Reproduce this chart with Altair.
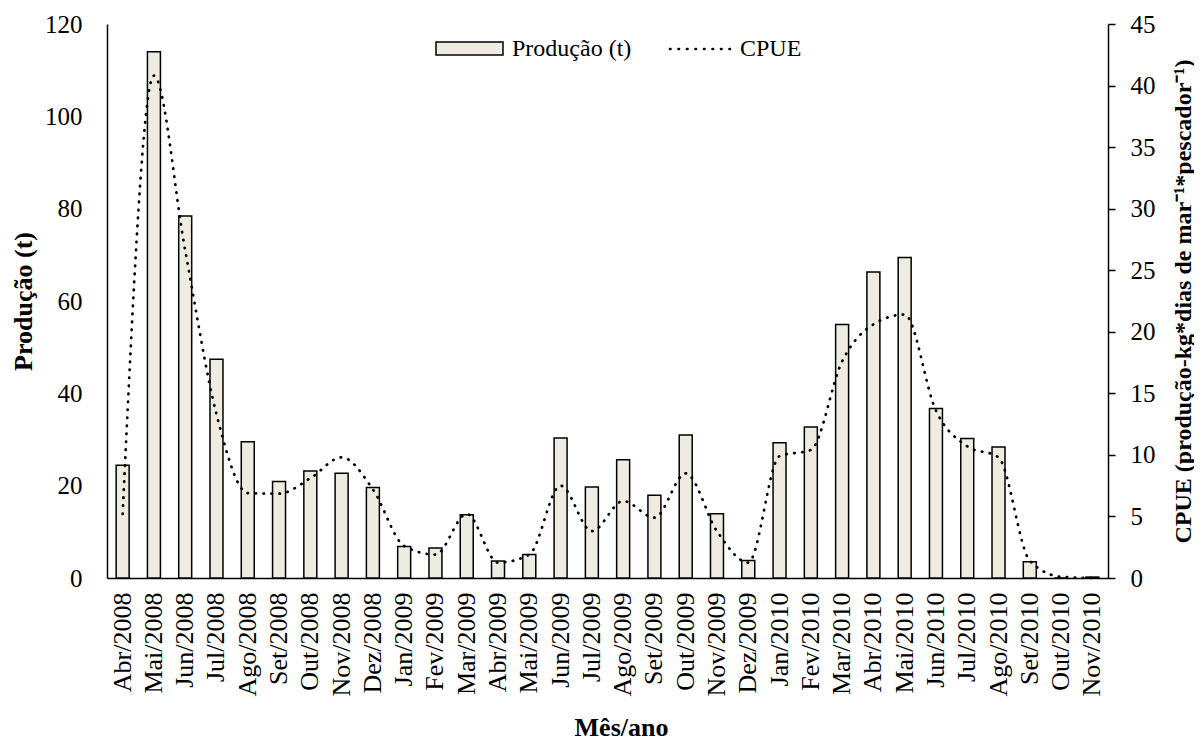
import altair as alt
import pandas as pd

meses = ["Abr/2008", "Mai/2008", "Jun/2008", "Jul/2008", "Ago/2008", "Set/2008", "Out/2008",
         "Nov/2008", "Dez/2008", "Jan/2009", "Fev/2009", "Mar/2009", "Abr/2009", "Mai/2009",
         "Jun/2009", "Jul/2009", "Ago/2009", "Set/2009", "Out/2009", "Nov/2009", "Dez/2009",
         "Jan/2010", "Fev/2010", "Mar/2010", "Abr/2010", "Mai/2010", "Jun/2010", "Jul/2010",
         "Ago/2010", "Set/2010", "Out/2010", "Nov/2010"]
producao = [24.4, 114.0, 78.4, 47.4, 29.5, 20.9, 23.2, 22.7, 19.6, 6.8, 6.5, 13.7, 3.7, 5.1,
            30.3, 19.7, 25.6, 17.9, 31.0, 13.9, 3.8, 29.3, 32.7, 54.9, 66.3, 69.4, 36.7, 30.2,
            28.4, 3.5, 0.0, 0.2]
cpue = [5.2, 40.8, 26.6, 13.3, 6.9, 6.85, 8.1, 9.8, 7.2, 2.6, 1.9, 5.2, 1.25, 1.9,
        7.5, 3.8, 6.25, 4.9, 8.5, 3.8, 1.25, 9.9, 10.4, 17.6, 20.6, 21.4, 13.6, 10.7,
        9.8, 1.4, 0.1, 0.0]

df = pd.DataFrame({"mes": meses, "producao": producao, "cpue": cpue})

FONT = "Liberation Serif"

x_enc = alt.X(
    "mes:N", sort=meses,
    scale=alt.Scale(paddingInner=0.585, paddingOuter=0.2925),
    axis=alt.Axis(
        title="Mês/ano", labelAngle=-90, labelFont=FONT, labelFontSize=26, labelColor="black",
        labelPadding=14, labelAlign="right", labelBaseline="middle", labelOverlap=False,
        ticks=False, domainColor="black", domainWidth=1.5, grid=False,
        titleFont=FONT, titleFontSize=26, titleFontWeight="bold", titleColor="black",
        titleX=514, titleY=157, titleBaseline="alphabetic", titleAlign="center",
    ),
)

bars = alt.Chart(df).mark_bar(fill="#EEECE1", stroke="black", strokeWidth=1.5).encode(
    x=x_enc,
    y=alt.Y(
        "producao:Q",
        scale=alt.Scale(domain=[0, 120], nice=False),
        axis=alt.Axis(
            title="Produção (t)", values=[0, 20, 40, 60, 80, 100, 120], grid=False,
            ticks=False, labelPadding=25, labelFont=FONT, labelFontSize=25, labelColor="black",
            domainColor="black", domainWidth=1.5,
            titleFont=FONT, titleFontSize=26, titleFontWeight="bold", titleColor="black",
            titleAngle=-90, titleX=-84, titleY=277, titleAlign="center", titleBaseline="middle",
        ),
    ),
)

line = alt.Chart(df).mark_line(
    color="black", strokeWidth=2.7, strokeDash=[0.5, 7.5], strokeCap="round",
    interpolate="monotone",
).encode(
    x=x_enc,
    y=alt.Y(
        "cpue:Q",
        scale=alt.Scale(domain=[0, 45], nice=False),
        axis=alt.Axis(
            orient="right",
            title="CPUE (produção-kg*dias de mar⁻¹*pescador⁻¹)",
            values=[0, 5, 10, 15, 20, 25, 30, 35, 40, 45], grid=False,
            ticks=True, tickSize=7, tickWidth=1.5, tickColor="black",
            labelPadding=15, labelFont=FONT, labelFontSize=25, labelColor="black",
            domainColor="black", domainWidth=1.5,
            titleFont=FONT, titleFontSize=24, titleFontWeight="bold", titleColor="black",
            titleAngle=-90, titleX=75, titleY=277, titleAlign="center", titleBaseline="middle",
        ),
    ),
)

dummy = pd.DataFrame({"k": [0]})
leg_rect = alt.Chart(dummy).mark_rect(fill="#EEECE1", stroke="black", strokeWidth=1.5).encode(
    x=alt.value(329), x2=alt.value(396), y=alt.value(18), y2=alt.value(31)
)
leg_text1 = alt.Chart(dummy).mark_text(
    font=FONT, fontSize=24, align="left", baseline="middle", color="black"
).encode(x=alt.value(405), y=alt.value(25), text=alt.value("Produção (t)"))
leg_rule = alt.Chart(dummy).mark_rule(
    color="black", strokeWidth=2.7, strokeDash=[0.5, 8.0], strokeCap="round"
).encode(x=alt.value(563), x2=alt.value(630), y=alt.value(25))
leg_text2 = alt.Chart(dummy).mark_text(
    font=FONT, fontSize=24, align="left", baseline="middle", color="black"
).encode(x=alt.value(633), y=alt.value(25), text=alt.value("CPUE"))

chart = alt.layer(bars, line, leg_rect, leg_text1, leg_rule, leg_text2).resolve_scale(
    y="independent"
).properties(
    width=1001, height=554,
    autosize=alt.AutoSizeParams(type="none"),
    padding={"left": 99, "top": 16, "right": 86, "bottom": 166},
).configure_view(stroke=None)

chart.save("out.html", embed_options={"renderer": "svg", "actions": False})
